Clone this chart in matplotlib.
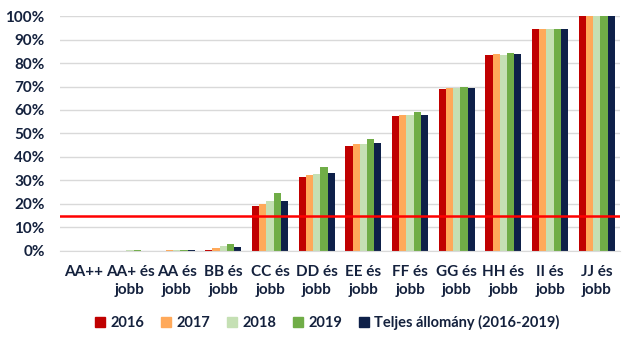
import numpy as np
import matplotlib.pyplot as plt
from matplotlib.lines import Line2D

# ---- Data ----
categories = ["AA++", "AA+ és\njobb", "AA és\njobb", "BB és\njobb", "CC és\njobb", "DD és\njobb",
              "EE és\njobb", "FF és\njobb", "GG és\njobb", "HH és\njobb", "II és\njobb", "JJ és\njobb"]
series_names = ["2016", "2017", "2018", "2019", "Teljes állomány (2016-2019)"]
v2016 = [0.0, 0.0, 0.0, 0.4, 19.1, 31.5, 44.7, 57.4, 68.9, 83.4, 94.5, 100.0]
v2017 = [0.0, 0.0, 0.4, 1.3, 20.0, 32.3, 45.5, 57.9, 69.4, 83.8, 94.5, 100.0]
v2018 = [0.0, 0.3, 0.4, 2.1, 21.3, 32.9, 45.5, 57.9, 69.4, 83.4, 94.5, 100.0]
v2019 = [0.0, 0.3, 0.4, 3.0, 24.7, 35.7, 47.7, 59.1, 69.8, 84.3, 94.5, 100.0]
vtotal = [0.0, 0.0, 0.4, 1.7, 21.3, 33.2, 46.0, 57.9, 69.4, 83.8, 94.5, 100.0]
threshold = 15.0

colors = ["#C00000", "#FFA95A", "#C5E0B4", "#70AD47", "#0E2049"]
text_col = "#14213D"

plt.rcParams['font.family'] = ['Lato', 'DejaVu Sans']
plt.rcParams['font.weight'] = 'bold'

fig = plt.figure(figsize=(6.36, 3.45), dpi=100)
ax = fig.add_axes([0.0943, 0.2725, 0.8807, 0.6811])

x = np.arange(len(categories))
all_vals = [v2016, v2017, v2018, v2019, vtotal]
w = 0.155
for i, (vals, c) in enumerate(zip(all_vals, colors)):
    ax.bar(x + (i - 2) * w, np.array(vals) / 100, width=w, color=c, zorder=2)

# 15% threshold line
ax.axhline(threshold / 100, color="#FF0000", lw=1.8, zorder=3)

ax.set_ylim(0, 1)
ax.set_xlim(-0.5, len(categories) - 0.5)
ax.set_yticks(np.arange(0, 1.01, 0.1))
ax.set_yticklabels([f"{int(round(t * 100))}%" for t in np.arange(0, 1.01, 0.1)])
ax.yaxis.grid(True, color="#D9D9D9", lw=1, zorder=0)
ax.set_axisbelow(True)
ax.set_xticks(x)
ax.set_xticklabels(categories, va="top", linespacing=1.4)
ax.tick_params(axis="both", length=0, labelsize=11, labelcolor=text_col)
ax.tick_params(axis="x", pad=10)
ax.tick_params(axis="y", pad=11)
for s in ["top", "right", "left"]:
    ax.spines[s].set_visible(False)
ax.spines["bottom"].set_color("#D9D9D9")

handles = [Line2D([], [], marker="s", ls="", color=c, markersize=7) for c in colors]
fig.legend(handles, series_names, loc="center", bbox_to_anchor=(0.513, 0.065), ncol=5,
           frameon=False, fontsize=10.5, handletextpad=0.2, columnspacing=1.0,
           labelcolor=text_col, handlelength=1.0)

fig.savefig("out.png", dpi=100)
